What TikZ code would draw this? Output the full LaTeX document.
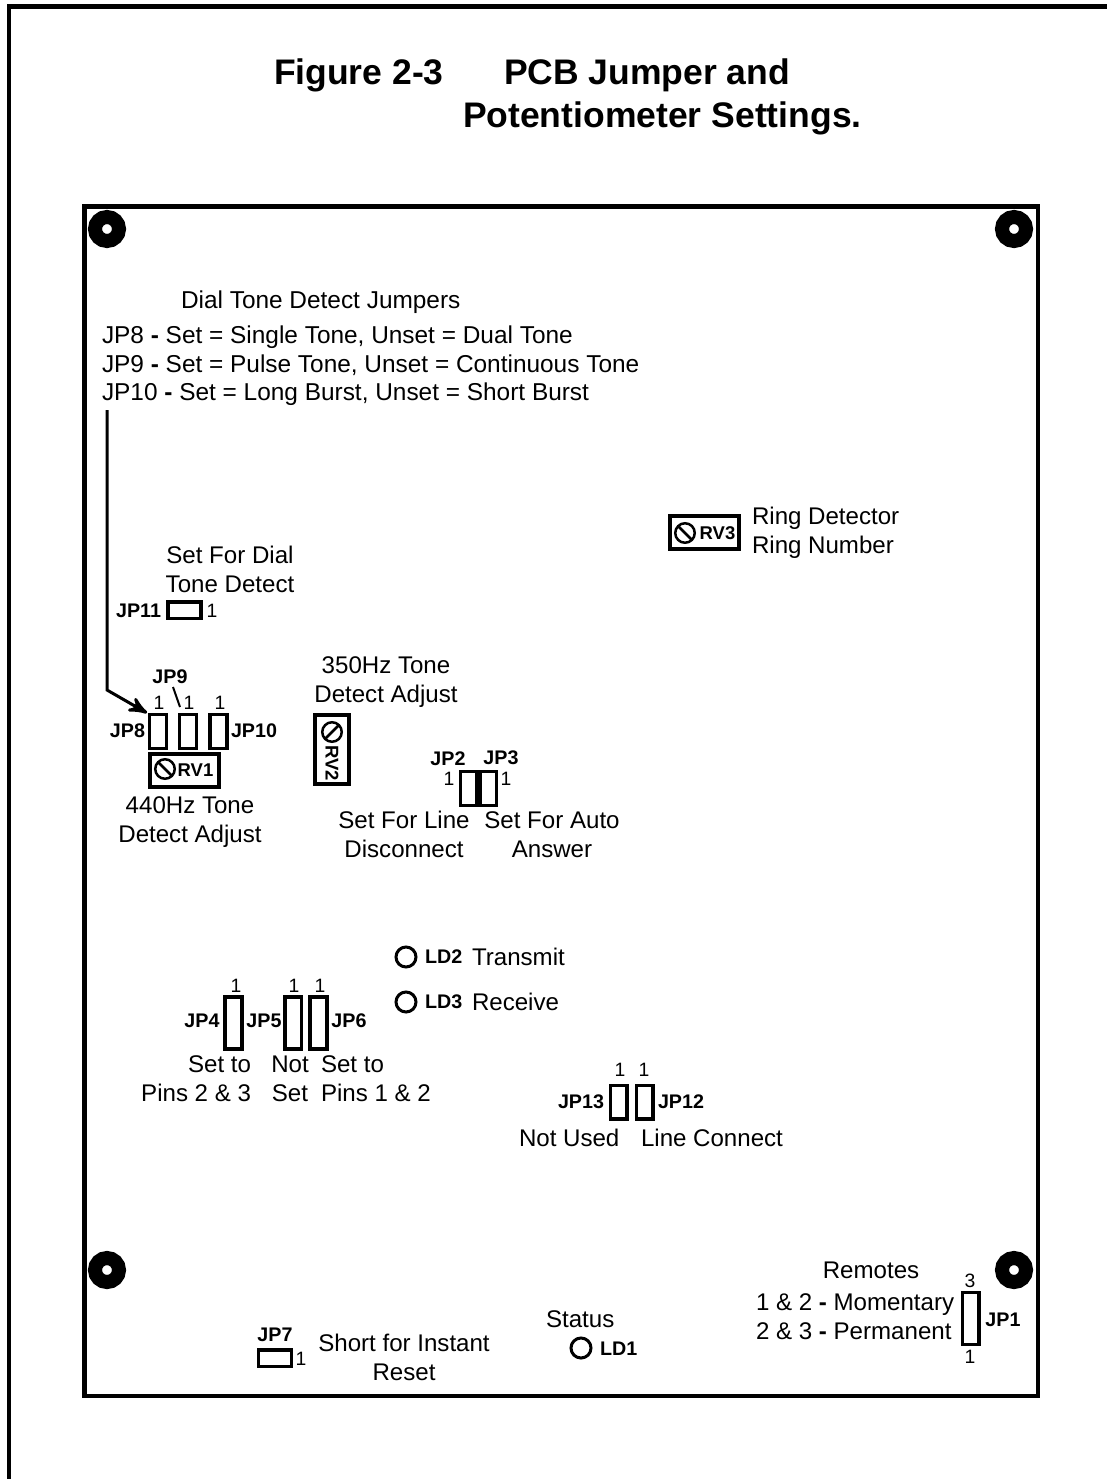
\documentclass[tikz,border=0pt]{standalone}
\usepackage{fontspec}
\setmainfont{Liberation Sans}
\usepackage{xcolor}
\usepackage{tikz}
\usetikzlibrary{shapes}
\usetikzlibrary{arrows}
\tikzset{
	main text/.style={font=\fontsize{6.85}{8.22}\selectfont,inner sep=0pt,outer sep=0pt},
	wide text/.style={font=\fontsize{6.94}{8.22}\selectfont,inner sep=0pt,outer sep=0pt},
	title text/.style={font=\fontsize{10.1}{12.2}\selectfont\bfseries,inner sep=0pt,outer sep=0pt},
	jp label/.style={font=\fontsize{5.6}{6}\selectfont\bfseries,inner sep=0pt,outer sep=0pt},
	pot label/.style={font=\fontsize{5.25}{6}\selectfont\bfseries,inner sep=0pt,outer sep=0pt},
	pin mark/.style={font=\fontsize{5.5}{6}\selectfont,inner sep=0pt,outer sep=0pt},
	vjumper/.style={rectangle,draw,line width=.035cm,inner sep=0pt,outer sep=0pt,minimum width=.165cm,minimum height=.335cm},
	tall jumper/.style={vjumper,minimum height=.52cm},
	hjumper/.style={rectangle,draw,line width=.035cm,inner sep=0pt,outer sep=0pt,minimum width=.33cm,minimum height=.165cm},
	pot box/.style={rectangle,draw,line width=.04cm,inner sep=0pt,outer sep=0pt,minimum width=.69cm,minimum height=.335cm},
	pot dial/.style={circle,draw,line width=.025cm,inner sep=0pt,outer sep=0pt,minimum size=.195cm},
	led/.style={circle,draw,line width=.03cm,inner sep=0pt,outer sep=0pt,minimum size=.2cm},
	hole/.style={circle,draw,line width=.14cm,inner sep=0pt,outer sep=0pt,minimum size=.24cm}
}
\newcommand{\hyp}{\textbf{-}}
\begin{document}
\begin{tikzpicture}[x=.01cm,y=-.01cm,>=stealth']
	\useasboundingbox (0,0) rectangle (1107,1479);
	% frame and board
	\draw[line width=.045cm] (9,1479) -- (9,6.5) -- (1107,6.5);
	\draw[line width=.045cm] (84.5,206.5) rectangle (1038,1396);
	\node [title text,anchor=base west] (fig) at (274,85) {Figure 2-3};
	\node [title text,anchor=base west] (title1) at (504,85) {PCB Jumper and};
	\node [title text,anchor=base west] (title2) at (463,128) {Potentiometer Settings.};
	\node [hole] (hole1) at (107,229) {};
	\node [hole] (hole2) at (1014,229) {};
	\node [hole] (hole3) at (107,1270) {};
	\node [hole] (hole4) at (1014,1270) {};
	% dial tone text
	\node [wide text,anchor=base west] (dial) at (181,308) {Dial Tone Detect Jumpers};
	\node [wide text,anchor=base west] (jp8text) at (102,343) {JP8 \hyp{} Set = Single Tone, Unset = Dual Tone};
	\node [wide text,anchor=base west] (jp9text) at (102,372) {JP9 \hyp{} Set = Pulse Tone, Unset = Continuous Tone};
	\node [wide text,anchor=base west] (jp10text) at (102,400) {JP10 \hyp{} Set = Long Burst, Unset = Short Burst};
	% jp11
	\node [main text,align=center] (dial11) at (230,569.5) {Set For Dial\\Tone Detect};
	\node [hjumper] (jp11) at (184.5,610) {};
	\node [jp label,anchor=east] (jp11lbl) at (161,611) {JP11};
	\node [pin mark] (jp11pin) at (212,611) {1};
	% jp8, jp9, jp10 and rv1
	\node [vjumper] (jp8) at (158,731.5) {};
	\node [vjumper] (jp9) at (188,731.5) {};
	\node [vjumper] (jp10) at (218.5,731.5) {};
	\node [pin mark] (jp8pin) at (159,703) {1};
	\node [pin mark] (jp9pin) at (189,703) {1};
	\node [pin mark] (jp10pin) at (220,703) {1};
	\node [jp label,anchor=east] (jp8lbl) at (145,731) {JP8};
	\node [jp label] (jp9lbl) at (170,677) {JP9};
	\node [jp label,anchor=west] (jp10lbl) at (231,731) {JP10};
	\coordinate (a1) at (107,410);
	\coordinate (a2) at (107,690);
	\coordinate (a3) at (147,713);
	\draw[->,line width=.03cm] (a1) -- (a2) -- (a3);
	\coordinate (t1) at (173,687);
	\coordinate (t2) at (180,707);
	\draw[line width=.02cm] (t1) -- (t2);
	\node [pot box] (rv1) at (184.5,770.5) {};
	\node [pot dial] (dial1) at (165,769) {};
	\draw[line width=.025cm] (dial1.north west) -- (dial1.south east);
	\node [pot label] (rv1lbl) at (195.5,770) {RV1};
	\node [main text,align=center] (adj440) at (190,822) {440Hz Tone\\Detect Adjust};
	% rv2
	\node [main text,align=center] (adj350) at (386,682) {350Hz Tone\\Detect Adjust};
	\node [pot box,minimum width=.34cm,minimum height=.69cm] (rv2) at (332,749.5) {};
	\node [pot dial] (dial2) at (332,732) {};
	\draw[line width=.025cm] (dial2.north east) -- (dial2.south west);
	\node [pot label,rotate=-90] (rv2lbl) at (332,763) {RV2};
	% rv3
	\node [pot box] (rv3) at (704.5,532.5) {};
	\node [pot dial] (dial3) at (685,533) {};
	\draw[line width=.025cm] (dial3.north west) -- (dial3.south east);
	\node [pot label] (rv3lbl) at (717.5,533) {RV3};
	\node [main text,align=left,anchor=west] (ring) at (752,533) {Ring Detector\\Ring Number};
	% jp2, jp3
	\node [vjumper] (jp2) at (468.5,788.5) {};
	\node [vjumper] (jp3) at (488,788.5) {};
	\node [jp label] (jp2lbl) at (448,759) {JP2};
	\node [jp label] (jp3lbl) at (501,758) {JP3};
	\node [pin mark] (jp2pin) at (449,779) {1};
	\node [pin mark] (jp3pin) at (506,779) {1};
	\node [main text,align=center] (linedis) at (404,834) {Set For Line\\Disconnect};
	\node [main text,align=center] (autoans) at (552,835) {Set For Auto\\Answer};
	% leds
	\node [led] (ld2) at (406,957) {};
	\node [led] (ld3) at (406,1002) {};
	\node [led] (ld1) at (581,1348) {};
	\node [jp label,anchor=west] (ld2lbl) at (425,957) {LD2};
	\node [jp label,anchor=west] (ld3lbl) at (425,1002) {LD3};
	\node [jp label,anchor=west] (ld1lbl) at (600,1349) {LD1};
	\node [main text,anchor=base west] (transmit) at (472,965) {Transmit};
	\node [main text,anchor=base west] (receive) at (472,1010) {Receive};
	\node [main text,anchor=base west] (status) at (546,1327) {Status};
	% jp4, jp5, jp6
	\node [tall jumper] (jp4) at (233.5,1023) {};
	\node [tall jumper] (jp5) at (293,1023) {};
	\node [tall jumper] (jp6) at (318.5,1023) {};
	\node [pin mark] (jp4pin) at (236,986) {1};
	\node [pin mark] (jp5pin) at (294,986) {1};
	\node [pin mark] (jp6pin) at (320,986) {1};
	\node [jp label] (jp4lbl) at (202,1021) {JP4};
	\node [jp label] (jp5lbl) at (264,1021) {JP5};
	\node [jp label] (jp6lbl) at (349,1021) {JP6};
	\node [main text,align=right,anchor=east] (pins23) at (251,1079) {Set to\\Pins 2 \& 3};
	\node [main text,align=center] (notset) at (290,1079) {Not\\Set};
	\node [main text,align=left,anchor=west] (pins12) at (321,1079) {Set to\\Pins 1 \& 2};
	% jp13, jp12
	\node [vjumper] (jp13) at (618.5,1102) {};
	\node [vjumper] (jp12) at (644.5,1102) {};
	\node [pin mark] (jp13pin) at (620,1070) {1};
	\node [pin mark] (jp12pin) at (644,1070) {1};
	\node [jp label] (jp13lbl) at (581,1102) {JP13};
	\node [jp label] (jp12lbl) at (681,1102) {JP12};
	\node [main text,anchor=base west] (notused) at (519,1146) {Not Used};
	\node [main text,anchor=base west] (lineconn) at (641,1146) {Line Connect};
	% jp7
	\node [hjumper] (jp7) at (275,1358) {};
	\node [jp label] (jp7lbl) at (275,1335) {JP7};
	\node [pin mark] (jp7pin) at (301,1359) {1};
	\node [main text,align=center] (short) at (404,1357) {Short for Instant\\Reset};
	% jp1
	\node [tall jumper] (jp1) at (970.5,1318.5) {};
	\node [pin mark] (jp1top) at (970,1281) {3};
	\node [pin mark] (jp1bot) at (970,1357) {1};
	\node [jp label] (jp1lbl) at (1003,1320) {JP1};
	\node [main text] (remotes) at (871,1270) {Remotes};
	\node [main text,anchor=base west] (mom) at (756,1310) {1 \& 2 \hyp{} Momentary};
	\node [main text,anchor=base west] (perm) at (756,1339) {2 \& 3 \hyp{} Permanent};
\end{tikzpicture}
\end{document}
